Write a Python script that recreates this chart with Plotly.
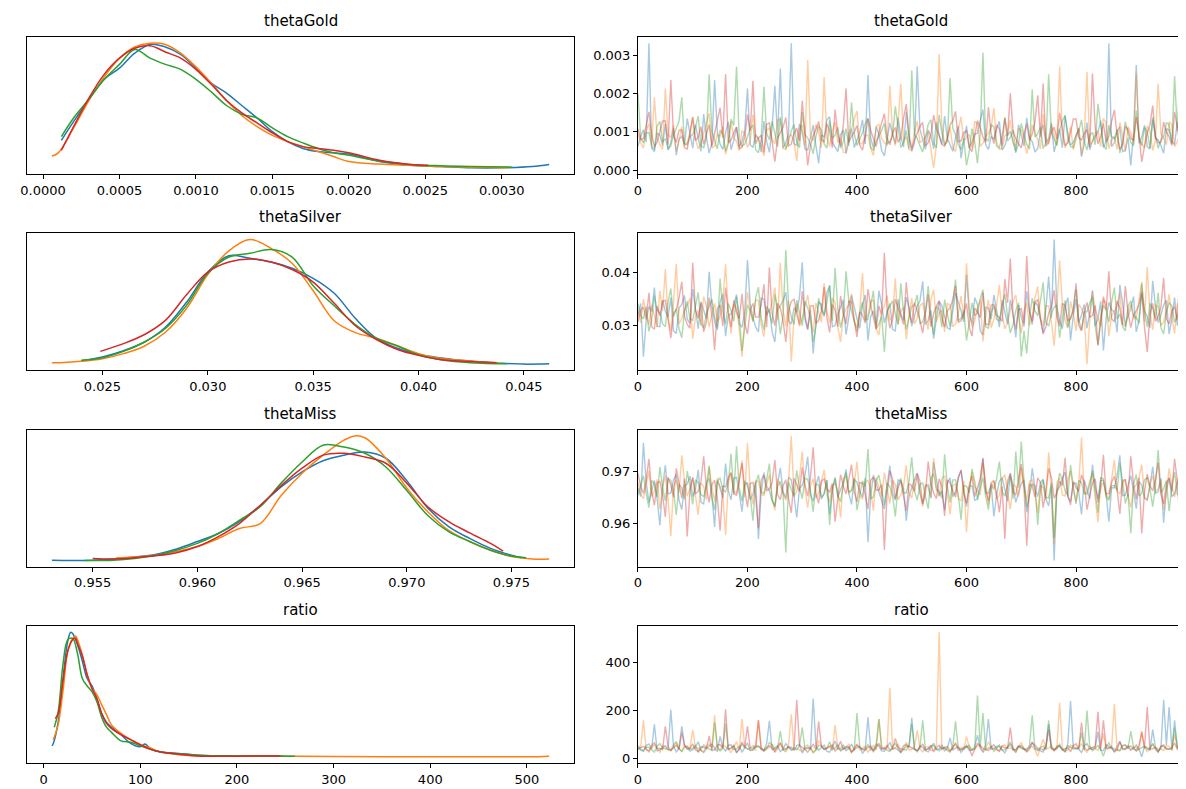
import plotly.graph_objects as go
from plotly.subplots import make_subplots

# chain colours (matplotlib tab10) and variable names
chain_colors = ['#1f77b4', '#ff7f0e', '#2ca02c', '#d62728']
var_names = ['thetaGold', 'thetaSilver', 'thetaMiss', 'ratio']

# draw index of the thinned traces (every 5th draw)
draws = list(range(0, 1000, 5))

# ---------------- KDE curves: x and relative density per chain ----------------
gold_x_c0 = [0.00012, 0.0002, 0.0003, 0.0004, 0.0005, 0.0006, 0.0007, 0.0008, 0.0009, 0.0010, 0.0011, 0.0012, 0.0013,
             0.0014, 0.0015, 0.0016, 0.0017, 0.0018, 0.0019, 0.0020, 0.0022, 0.0024, 0.0026, 0.0028, 0.0030, 0.0032, 0.00331]
gold_d_c0 = [0.22, 0.37, 0.55, 0.71, 0.80, 0.92, 0.99, 0.97, 0.91, 0.80, 0.68, 0.60, 0.50,
             0.40, 0.29, 0.21, 0.155, 0.13, 0.12, 0.11, 0.05, 0.02, 0.01, 0.0, 0.0, 0.01, 0.027]
gold_x_c1 = [0.000058, 0.0001, 0.0002, 0.0003, 0.0004, 0.0005, 0.0006, 0.0007, 0.0008, 0.0009, 0.0010, 0.0011, 0.0012,
             0.0013, 0.0014, 0.0015, 0.0016, 0.0017, 0.0018, 0.0019, 0.0020, 0.0022, 0.0024, 0.0026, 0.0028, 0.00305]
gold_d_c1 = [0.094, 0.12, 0.32, 0.54, 0.73, 0.88, 0.97, 1.00, 0.99, 0.92, 0.81, 0.68, 0.54,
             0.42, 0.33, 0.26, 0.21, 0.17, 0.13, 0.09, 0.05, 0.03, 0.02, 0.01, 0.005, 0.0]
gold_x_c2 = [0.00012, 0.0002, 0.0003, 0.0004, 0.0005, 0.0006, 0.0007, 0.0008, 0.0009, 0.0010, 0.0011, 0.0012, 0.0013,
             0.0014, 0.0015, 0.0016, 0.0017, 0.0018, 0.0019, 0.0020, 0.0022, 0.0024, 0.0026, 0.0028, 0.00307]
gold_d_c2 = [0.25, 0.40, 0.55, 0.71, 0.83, 0.95, 0.88, 0.83, 0.79, 0.71, 0.61, 0.50, 0.43,
             0.40, 0.32, 0.25, 0.20, 0.155, 0.12, 0.10, 0.055, 0.027, 0.016, 0.01, 0.005]
gold_x_c3 = [0.00012, 0.0002, 0.0003, 0.0004, 0.0005, 0.0006, 0.0007, 0.0008, 0.0009, 0.0010, 0.0011, 0.0012, 0.0013,
             0.0014, 0.0015, 0.0016, 0.0017, 0.0018, 0.0019, 0.0020, 0.0022, 0.0024, 0.00252]
gold_d_c3 = [0.14, 0.33, 0.56, 0.75, 0.88, 0.96, 0.98, 0.93, 0.88, 0.79, 0.67, 0.54, 0.44,
             0.36, 0.28, 0.21, 0.17, 0.155, 0.14, 0.12, 0.06, 0.027, 0.02]

silver_x_c0 = [0.024, 0.025, 0.026, 0.027, 0.028, 0.029, 0.030, 0.031, 0.032, 0.033, 0.034, 0.035,
               0.036, 0.037, 0.038, 0.039, 0.040, 0.041, 0.042, 0.043, 0.044, 0.045, 0.0462]
silver_d_c0 = [0.04, 0.07, 0.12, 0.19, 0.31, 0.51, 0.75, 0.88, 0.86, 0.83, 0.78, 0.70,
               0.58, 0.38, 0.22, 0.14, 0.09, 0.064, 0.043, 0.03, 0.019, 0.013, 0.016]
silver_x_c1 = [0.0226, 0.023, 0.024, 0.025, 0.026, 0.027, 0.028, 0.029, 0.030, 0.031, 0.032, 0.033,
               0.034, 0.035, 0.036, 0.037, 0.038, 0.039, 0.040, 0.041, 0.042, 0.043, 0.0438]
silver_d_c1 = [0.024, 0.024, 0.035, 0.056, 0.097, 0.158, 0.27, 0.46, 0.73, 0.92, 1.01, 0.94,
               0.82, 0.60, 0.36, 0.265, 0.22, 0.16, 0.097, 0.06, 0.043, 0.03, 0.024]
silver_x_c2 = [0.024, 0.025, 0.026, 0.027, 0.028, 0.029, 0.030, 0.031, 0.032, 0.033, 0.034,
               0.035, 0.036, 0.037, 0.038, 0.039, 0.040, 0.041, 0.042, 0.043, 0.044, 0.0442]
silver_d_c2 = [0.043, 0.064, 0.115, 0.19, 0.30, 0.485, 0.74, 0.87, 0.90, 0.93, 0.87,
               0.64, 0.48, 0.33, 0.22, 0.158, 0.088, 0.05, 0.03, 0.02, 0.016, 0.016]
silver_x_c3 = [0.0249, 0.026, 0.027, 0.028, 0.029, 0.030, 0.031, 0.032, 0.033, 0.034,
               0.035, 0.036, 0.037, 0.038, 0.039, 0.040, 0.041, 0.042, 0.043, 0.0437]
silver_d_c3 = [0.115, 0.177, 0.25, 0.365, 0.57, 0.75, 0.83, 0.855, 0.83, 0.77,
               0.67, 0.50, 0.32, 0.21, 0.13, 0.083, 0.05, 0.038, 0.03, 0.024]

miss_x_c0 = [0.95305, 0.954, 0.955, 0.956, 0.957, 0.958, 0.959, 0.960, 0.961, 0.962, 0.963, 0.964,
             0.965, 0.966, 0.967, 0.968, 0.969, 0.970, 0.971, 0.972, 0.973, 0.974, 0.975, 0.9755]
miss_d_c0 = [0.01, 0.008, 0.01, 0.02, 0.035, 0.056, 0.10, 0.16, 0.225, 0.32, 0.45, 0.60,
             0.72, 0.81, 0.855, 0.88, 0.83, 0.65, 0.43, 0.28, 0.185, 0.105, 0.05, 0.03]
miss_x_c1 = [0.9561, 0.957, 0.958, 0.959, 0.960, 0.961, 0.962, 0.963, 0.964, 0.965, 0.966, 0.967,
             0.9675, 0.968, 0.969, 0.970, 0.971, 0.972, 0.973, 0.974, 0.975, 0.976, 0.9768]
miss_d_c1 = [0.027, 0.035, 0.05, 0.08, 0.12, 0.185, 0.265, 0.305, 0.53, 0.71, 0.855, 0.976,
             1.01, 0.995, 0.83, 0.59, 0.40, 0.25, 0.16, 0.09, 0.04, 0.019, 0.019]
miss_x_c2 = [0.9546, 0.956, 0.957, 0.958, 0.959, 0.960, 0.961, 0.962, 0.963, 0.964, 0.965,
             0.966, 0.967, 0.968, 0.969, 0.970, 0.971, 0.972, 0.973, 0.974, 0.975, 0.9757]
miss_d_c2 = [0.008, 0.01, 0.024, 0.05, 0.09, 0.145, 0.225, 0.33, 0.44, 0.63, 0.80,
             0.935, 0.92, 0.87, 0.76, 0.57, 0.37, 0.24, 0.16, 0.09, 0.043, 0.03]
miss_x_c3 = [0.955, 0.956, 0.957, 0.958, 0.959, 0.960, 0.961, 0.962, 0.963, 0.964, 0.965,
             0.966, 0.967, 0.968, 0.969, 0.970, 0.971, 0.972, 0.973, 0.974, 0.9746]
miss_d_c3 = [0.024, 0.02, 0.03, 0.045, 0.07, 0.12, 0.20, 0.305, 0.45, 0.61, 0.75,
             0.855, 0.87, 0.84, 0.79, 0.63, 0.44, 0.32, 0.23, 0.145, 0.083]

ratio_x_c0 = [8.5, 10, 15, 20, 25, 28, 30, 35, 40, 45, 50, 55, 60,
              65, 70, 80, 90, 100, 105, 110, 120, 140, 160, 200, 248]
ratio_d_c0 = [0.09, 0.11, 0.28, 0.63, 0.93, 1.0, 0.99, 0.90, 0.77, 0.63, 0.57, 0.47, 0.35,
              0.28, 0.24, 0.18, 0.11, 0.083, 0.105, 0.07, 0.043, 0.03, 0.016, 0.01, 0.01]
ratio_x_c1 = [10, 15, 20, 25, 30, 33, 35, 40, 45, 50, 55, 60, 65,
              70, 80, 90, 100, 110, 120, 140, 160, 200, 300, 400, 500, 523]
ratio_d_c1 = [0.14, 0.26, 0.53, 0.85, 0.95, 0.97, 0.94, 0.82, 0.66, 0.55, 0.50, 0.42, 0.34,
              0.26, 0.19, 0.14, 0.10, 0.075, 0.043, 0.02, 0.01, 0.01, 0.005, 0.003, 0.003, 0.008]
ratio_x_c2 = [11, 15, 20, 25, 30, 35, 40, 45, 50, 55, 60,
              65, 70, 80, 90, 100, 110, 120, 140, 160, 200, 260]
ratio_d_c2 = [0.24, 0.36, 0.74, 0.94, 0.95, 0.83, 0.63, 0.57, 0.525, 0.445, 0.32,
              0.24, 0.20, 0.13, 0.12, 0.09, 0.064, 0.043, 0.027, 0.016, 0.01, 0.008]
ratio_x_c3 = [12, 15, 20, 25, 30, 33, 35, 40, 45, 50, 55, 60,
              65, 70, 80, 90, 100, 110, 120, 140, 160, 200, 245]
ratio_d_c3 = [0.31, 0.35, 0.61, 0.85, 0.94, 0.95, 0.91, 0.81, 0.66, 0.55, 0.47, 0.35,
              0.27, 0.23, 0.18, 0.14, 0.10, 0.064, 0.043, 0.024, 0.01, 0.008, 0.01]

# ---------------- traces (every 5th draw) per chain ----------------
# thetaGold stored in units of 1e-5, thetaSilver / thetaMiss in units of 1e-4
trace_unit = [1e-5, 1e-4, 1e-4, 1]

gold_c0 = [62, 88, 105, 73, 331, 57, 48, 96, 91, 64, 120, 52, 71, 109, 39, 81, 88, 67, 134, 93,
           57, 118, 79, 49, 146, 85, 44, 71, 235, 99, 68, 54, 97, 126, 53, 78, 112, 61, 75, 102,
           213, 66, 59, 92, 83, 47, 128, 74, 46, 111, 220, 83, 265, 58, 71, 95, 331, 69, 64, 121,
           99, 55, 52, 87, 117, 63, 18, 92, 86, 131, 139, 72, 61, 48, 92, 104, 43, 79, 108, 59,
           76, 97, 131, 68, 248, 84, 58, 113, 94, 51, 37, 76, 123, 92, 69, 137, 87, 60, 152, 83,
           49, 71, 270, 106, 78, 54, 104, 89, 55, 125, 93, 67, 141, 82, 66, 49, 84, 115, 31, 73,
           115, 58, 72, 94, 96, 129, 158, 66, 54, 87, 81, 107, 127, 52, 63, 91, 101, 74, 45, 118,
           89, 63, 136, 85, 74, 47, 56, 99, 118, 70, 82, 123, 47, 81, 107, 58, 143, 96, 65, 72,
           92, 110, 35, 67, 124, 53, 77, 88, 98, 129, 58, 76, 331, 61, 71, 102, 113, 48, 52, 84,
           12, 95, 274, 69, 86, 117, 61, 55, 132, 83, 79, 64, 44, 107, 105, 73, 67, 126, 94, 59]
gold_c1 = [94, 71, 58, 103, 121, 66, 190, 85, 67, 54, 213, 92, 84, 118, 49, 77, 113, 63, 72, 98,
           137, 81, 55, 69, 96, 124, 148, 57, 62, 93, 88, 112, 41, 68, 126, 84, 74, 51, 102, 97,
           59, 76, 145, 88, 81, 62, 37, 105, 109, 79, 68, 131, 132, 56, 53, 87, 92, 73, 24, 108,
           117, 64, 287, 91, 76, 119, 99, 58, 243, 84, 61, 103, 125, 72, 83, 46, 46, 95, 107, 133,
           154, 68, 69, 89, 91, 57, 38, 114, 119, 82, 73, 63, 220, 97, 64, 121, 226, 75, 87, 54,
           52, 99, 128, 71, 78, 86, 101, 48, 5.8, 64, 303, 117, 66, 81, 112, 59, 48, 104, 139, 76,
           85, 93, 57, 127, 121, 62, 70, 88, 96, 111, 162, 74, 54, 57, 89, 96, 131, 69, 62, 108,
           104, 83, 43, 72, 118, 99, 79, 55, 146, 87, 67, 118, 93, 64, 270, 92, 58, 76, 114, 53,
           81, 109, 39, 85, 256, 67, 72, 97, 103, 61, 135, 122, 56, 78, 88, 54, 124, 91, 47, 113,
           97, 70, 252, 84, 69, 58, 115, 102, 51, 77, 226, 95, 83, 66, 126, 119, 61, 74, 92, 85]
gold_c2 = [200, 84, 71, 97, 98, 62, 54, 115, 127, 73, 82, 56, 63, 91, 109, 128, 190, 69, 66, 87,
           93, 112, 141, 64, 58, 83, 250, 101, 77, 55, 104, 94, 49, 72, 133, 116, 270, 81, 62, 67,
           87, 108, 118, 53, 45, 79, 217, 96, 79, 127, 96, 61, 138, 84, 56, 73, 102, 119, 73, 58,
           151, 92, 84, 67, 42, 88, 115, 104, 68, 57, 129, 83, 91, 112, 57, 74, 108, 63, 176, 95,
           64, 81, 97, 121, 135, 59, 51, 76, 88, 103, 122, 68, 74, 89, 166, 114, 59, 71, 103, 56,
           260, 92, 82, 63, 47, 85, 119, 131, 71, 58, 144, 97, 65, 74, 240, 109, 92, 66, 53, 82,
           12, 47, 108, 73, 18, 94, 307, 81, 76, 118, 113, 62, 58, 89, 137, 76, 85, 104, 49, 67,
           121, 93, 67, 55, 210, 86, 94, 112, 56, 71, 250, 97, 78, 64, 105, 128, 142, 83, 61, 59,
           89, 102, 131, 74, 52, 91, 98, 66, 173, 117, 66, 53, 117, 88, 81, 106, 44, 72, 126, 95,
           72, 63, 155, 84, 63, 111, 101, 57, 138, 92, 57, 78, 87, 123, 119, 69, 245, 101, 260, 82]
gold_c3 = [108, 79, 83, 117, 152, 94, 61, 73, 97, 128, 128, 66, 235, 89, 72, 104, 104, 58, 55, 92,
           139, 77, 86, 113, 67, 95, 118, 62, 93, 131, 163, 84, 250, 71, 78, 98, 112, 56, 59, 87,
           145, 102, 233, 69, 84, 91, 46, 119, 123, 74, 22, 83, 96, 112, 137, 63, 68, 95, 109, 76,
           181, 88, 12, 64, 91, 105, 127, 79, 74, 121, 102, 58, 158, 93, 63, 117, 213, 72, 88, 99,
           116, 65, 52, 88, 134, 103, 79, 61, 98, 124, 147, 84, 66, 97, 111, 73, 85, 136, 172, 91,
           57, 78, 99, 114, 124, 63, 71, 92, 143, 106, 89, 67, 62, 83, 118, 129, 153, 74, 76, 98,
           102, 59, 48, 86, 129, 111, 87, 72, 164, 95, 69, 118, 107, 64, 136, 89, 200, 103, 81, 68,
           58, 94, 121, 77, 94, 125, 195, 87, 226, 62, 73, 99, 112, 81, 149, 108, 64, 71, 97, 133,
           133, 84, 78, 96, 105, 59, 252, 112, 68, 88, 121, 73, 89, 127, 157, 91, 54, 66, 114, 105,
           82, 78, 138, 94, 21, 61, 96, 117, 168, 86, 71, 72, 125, 99, 87, 64, 152, 111, 66, 83]

silver_c0 = [318, 341, 240, 309, 335, 326, 371, 298, 297, 347, 326, 315, 352, 289, 284, 332, 339, 356, 311, 303,
             368, 327, 293, 344, 327, 312, 401, 336, 305, 291, 344, 359, 279, 318, 321, 337, 358, 302, 296, 325,
             423, 339, 314, 296, 287, 351, 349, 318, 331, 287, 268, 329, 337, 346, 362, 308, 302, 333, 324, 354,
             419, 311, 291, 328, 246, 305, 343, 339, 316, 362, 374, 297, 299, 321, 333, 348, 282, 314, 356, 331,
             312, 294, 338, 357, 271, 316, 327, 301, 365, 338, 304, 324, 341, 292, 289, 349, 322, 309, 353, 334,
             298, 317, 336, 346, 383, 301, 309, 328, 274, 312, 345, 337, 318, 295, 292, 326, 361, 343, 327, 306,
             395, 321, 303, 352, 339, 289, 281, 334, 332, 311, 357, 328, 296, 347, 323, 302, 348, 319, 277, 338,
             315, 297, 364, 326, 301, 344, 337, 309, 285, 331, 392, 314, 462, 336, 308, 293, 334, 352, 271, 318,
             349, 305, 319, 339, 294, 322, 366, 298, 312, 345, 252, 313, 343, 329, 325, 286, 376, 341, 299, 317,
             331, 354, 287, 308, 359, 327, 316, 295, 384, 336, 305, 319, 338, 347, 283, 312, 352, 299, 321, 334]
silver_c1 = [327, 304, 349, 321, 301, 338, 318, 296, 365, 327, 406, 313, 289, 344, 416, 302, 312, 329, 337, 351,
             274, 316, 328, 299, 354, 335, 296, 318, 341, 307, 315, 346, 415, 324, 284, 339, 333, 292, 240, 315,
             362, 331, 307, 348, 346, 301, 278, 325, 325, 343, 371, 309, 418, 328, 298, 346, 231, 314, 339, 297,
             313, 336, 357, 318, 286, 342, 322, 305, 379, 327, 304, 351, 343, 296, 268, 319, 331, 338, 359, 308,
             295, 326, 398, 311, 319, 345, 347, 293, 281, 324, 336, 356, 309, 317, 388, 301, 326, 334, 273, 319,
             351, 302, 314, 337, 342, 318, 291, 349, 367, 306, 323, 328, 287, 341, 338, 297, 302, 322, 355, 311,
             417, 333, 296, 308, 334, 347, 269, 316, 348, 295, 311, 338, 376, 321, 293, 304, 329, 344, 357, 317,
             284, 326, 342, 299, 317, 352, 373, 313, 299, 336, 336, 307, 261, 329, 422, 341, 308, 294, 345, 323,
             289, 339, 332, 316, 226, 308, 364, 331, 315, 297, 348, 342, 279, 319, 326, 336, 361, 302, 297, 327,
             339, 314, 312, 345, 382, 306, 410, 322, 291, 338, 335, 299, 306, 327, 358, 315, 284, 341, 329, 308]
silver_c2 = [341, 317, 312, 335, 288, 309, 356, 328, 323, 302, 297, 344, 369, 316, 331, 293, 276, 327, 345, 311,
             309, 338, 362, 304, 294, 321, 337, 349, 315, 296, 388, 325, 302, 341, 328, 307, 354, 318, 251, 299,
             339, 326, 307, 352, 372, 314, 291, 336, 324, 303, 358, 329, 283, 317, 442, 338, 316, 301, 347, 324,
             299, 345, 333, 312, 268, 297, 351, 329, 319, 343, 376, 308, 408, 331, 295, 319, 402, 346, 327, 304,
             288, 322, 344, 309, 311, 337, 365, 294, 301, 318, 249, 327, 338, 346, 321, 301, 379, 325, 292, 314,
             335, 339, 357, 303, 306, 326, 374, 312, 282, 335, 329, 296, 348, 321, 297, 343, 386, 308, 313, 327,
             271, 304, 342, 318, 323, 349, 367, 297, 294, 324, 336, 311, 308, 337, 359, 316, 285, 301, 327, 342,
             240, 289, 246, 315, 351, 327, 318, 346, 381, 305, 298, 322, 334, 338, 276, 314, 347, 296, 312, 331,
             368, 309, 291, 325, 325, 342, 353, 298, 263, 316, 337, 329, 306, 344, 371, 311, 321, 297, 289, 336,
             346, 319, 314, 303, 378, 326, 296, 341, 332, 312, 361, 295, 283, 324, 342, 337, 305, 318, 327, 306]
silver_c3 = [306, 328, 334, 311, 361, 297, 292, 336, 318, 345, 347, 309, 275, 322, 329, 351, 382, 316, 301, 294,
             418, 327, 313, 342, 287, 305, 352, 319, 253, 331, 338, 298, 371, 324, 296, 347, 324, 312, 359, 303,
             283, 329, 341, 315, 315, 338, 377, 296, 409, 322, 299, 341, 332, 308, 268, 326, 345, 349, 321, 301,
             364, 318, 293, 336, 337, 303, 309, 327, 372, 314, 286, 339, 328, 297, 355, 321, 302, 345, 344, 308,
             277, 325, 319, 304, 368, 337, 311, 292, 336, 319, 437, 328, 294, 311, 349, 334, 317, 301, 381, 326,
             304, 342, 327, 309, 285, 324, 358, 297, 322, 336, 346, 313, 296, 327, 333, 348, 374, 305, 308, 321,
             341, 296, 279, 332, 325, 314, 362, 301, 301, 338, 339, 319, 314, 307, 387, 342, 426, 318, 292, 329,
             331, 303, 431, 326, 307, 344, 348, 312, 283, 297, 322, 335, 366, 316, 298, 341, 337, 308, 312, 327,
             379, 299, 289, 323, 343, 315, 318, 337, 261, 304, 354, 329, 402, 312, 306, 346, 332, 301, 374, 324,
             295, 318, 327, 339, 363, 296, 249, 321, 341, 307, 316, 334, 389, 312, 302, 327, 335, 309, 412, 331]

miss_c0 = [9668, 9652, 9755, 9679, 9641, 9663, 9683, 9648, 9597, 9671, 9712, 9657, 9659, 9684, 9694, 9645, 9627, 9673, 9676, 9691,
           9652, 9666, 9703, 9641, 9638, 9678, 9687, 9655, 9594, 9682, 9671, 9649, 9715, 9663, 9646, 9687, 9689, 9658, 9623, 9674,
           9679, 9646, 9656, 9681, 9571, 9659, 9698, 9672, 9663, 9644, 9632, 9677, 9707, 9661, 9649, 9689, 9684, 9653, 9612, 9668,
           9674, 9692, 9728, 9656, 9643, 9675, 9691, 9647, 9658, 9683, 9619, 9664, 9686, 9651, 9667, 9679, 9704, 9658, 9637, 9685,
           9679, 9662, 9651, 9688, 9565, 9654, 9693, 9676, 9662, 9641, 9628, 9673, 9711, 9659, 9645, 9684, 9682, 9667, 9606, 9652,
           9669, 9686, 9697, 9658, 9639, 9672, 9675, 9649, 9718, 9681, 9654, 9663, 9626, 9677, 9688, 9652, 9661, 9689, 9702, 9664,
           9633, 9671, 9673, 9645, 9647, 9682, 9724, 9659, 9659, 9674, 9614, 9656, 9681, 9688, 9666, 9643, 9695, 9672, 9641, 9661,
           9677, 9684, 9622, 9655, 9706, 9668, 9652, 9679, 9685, 9647, 9634, 9673, 9530, 9662, 9671, 9686, 9699, 9651, 9643, 9677,
           9678, 9659, 9618, 9684, 9664, 9648, 9713, 9671, 9648, 9683, 9683, 9656, 9604, 9669, 9669, 9691, 9731, 9654, 9655, 9676,
           9692, 9663, 9629, 9681, 9674, 9649, 9646, 9672, 9709, 9658, 9661, 9687, 9602, 9665, 9687, 9652, 9657, 9679, 9676, 9668]
miss_c1 = [9679, 9657, 9648, 9676, 9701, 9652, 9663, 9685, 9628, 9669, 9692, 9648, 9577, 9673, 9684, 9659, 9731, 9681, 9653, 9667,
           9689, 9654, 9617, 9678, 9672, 9646, 9708, 9671, 9643, 9688, 9666, 9655, 9578, 9679, 9697, 9662, 9659, 9684, 9721, 9651,
           9755, 9668, 9637, 9683, 9681, 9657, 9654, 9675, 9694, 9648, 9626, 9686, 9673, 9661, 9645, 9677, 9768, 9653, 9662, 9689,
           9738, 9665, 9631, 9672, 9686, 9649, 9659, 9681, 9703, 9656, 9641, 9674, 9677, 9662, 9612, 9687, 9691, 9658, 9664, 9676,
           9719, 9653, 9647, 9679, 9683, 9664, 9625, 9688, 9671, 9652, 9698, 9667, 9639, 9683, 9675, 9646, 9656, 9672, 9712, 9659,
           9649, 9684, 9687, 9661, 9633, 9676, 9668, 9651, 9725, 9669, 9652, 9687, 9691, 9657, 9618, 9673, 9676, 9648, 9644, 9682,
           9584, 9663, 9699, 9671, 9663, 9655, 9716, 9679, 9637, 9664, 9681, 9647, 9655, 9686, 9694, 9658, 9628, 9675, 9672, 9652,
           9707, 9668, 9646, 9681, 9684, 9659, 9621, 9673, 9669, 9646, 9736, 9662, 9561, 9678, 9688, 9655, 9653, 9684, 9701, 9667,
           9642, 9675, 9765, 9658, 9661, 9682, 9697, 9649, 9603, 9671, 9679, 9656, 9648, 9685, 9722, 9663, 9657, 9678, 9685, 9654,
           9631, 9669, 9674, 9687, 9713, 9652, 9644, 9676, 9692, 9661, 9667, 9683, 9626, 9658, 9706, 9672, 9651, 9686, 9683, 9664]
miss_c2 = [9655, 9674, 9692, 9658, 9631, 9683, 9676, 9651, 9709, 9669, 9644, 9686, 9683, 9662, 9617, 9677, 9668, 9647, 9701, 9671,
           9637, 9684, 9679, 9656, 9652, 9673, 9711, 9649, 9626, 9681, 9688, 9664, 9661, 9678, 9734, 9655, 9748, 9668, 9643, 9682,
           9672, 9653, 9606, 9676, 9694, 9661, 9658, 9685, 9715, 9647, 9634, 9672, 9681, 9658, 9545, 9679, 9667, 9652, 9702, 9669,
           9648, 9687, 9685, 9663, 9623, 9676, 9674, 9651, 9657, 9684, 9598, 9667, 9689, 9654, 9642, 9675, 9698, 9661, 9664, 9688,
           9626, 9657, 9682, 9671, 9743, 9648, 9651, 9683, 9693, 9666, 9636, 9678, 9671, 9652, 9614, 9674, 9687, 9659, 9659, 9681,
           9727, 9663, 9645, 9676, 9678, 9652, 9629, 9687, 9696, 9665, 9662, 9649, 9733, 9672, 9641, 9684, 9684, 9656, 9608, 9673,
           9672, 9659, 9705, 9681, 9647, 9668, 9688, 9653, 9627, 9677, 9666, 9686, 9719, 9661, 9653, 9674, 9691, 9648, 9738, 9669,
           9757, 9682, 9632, 9657, 9676, 9673, 9598, 9664, 9684, 9651, 9649, 9678, 9573, 9666, 9697, 9685, 9663, 9654, 9712, 9671,
           9638, 9683, 9679, 9659, 9656, 9675, 9701, 9662, 9621, 9688, 9686, 9651, 9645, 9673, 9673, 9664, 9716, 9681, 9639, 9657,
           9582, 9676, 9694, 9653, 9658, 9684, 9688, 9667, 9633, 9672, 9741, 9659, 9667, 9683, 9624, 9671, 9699, 9655, 9661, 9678]
miss_c3 = [9697, 9671, 9658, 9684, 9724, 9662, 9635, 9678, 9681, 9655, 9613, 9689, 9674, 9651, 9706, 9673, 9649, 9686, 9576, 9664,
           9688, 9657, 9662, 9681, 9729, 9668, 9641, 9675, 9683, 9649, 9587, 9672, 9671, 9688, 9698, 9659, 9654, 9683, 9716, 9665,
           9632, 9677, 9679, 9652, 9591, 9684, 9693, 9663, 9667, 9679, 9722, 9656, 9646, 9673, 9684, 9648, 9621, 9687, 9675, 9662,
           9708, 9674, 9653, 9689, 9746, 9658, 9639, 9681, 9686, 9666, 9661, 9677, 9604, 9653, 9694, 9672, 9657, 9685, 9713, 9661,
           9642, 9679, 9677, 9656, 9628, 9683, 9689, 9664, 9665, 9675, 9550, 9658, 9701, 9686, 9648, 9669, 9682, 9653, 9624, 9677,
           9673, 9662, 9696, 9681, 9637, 9657, 9719, 9676, 9659, 9648, 9686, 9671, 9615, 9684, 9678, 9663, 9651, 9687, 9703, 9659,
           9639, 9674, 9691, 9652, 9667, 9686, 9726, 9665, 9644, 9678, 9683, 9657, 9622, 9671, 9571, 9682, 9697, 9661, 9655, 9684,
           9714, 9667, 9558, 9676, 9672, 9651, 9688, 9679, 9631, 9664, 9706, 9688, 9649, 9659, 9681, 9673, 9726, 9654, 9636, 9681,
           9669, 9662, 9694, 9677, 9627, 9653, 9678, 9686, 9641, 9668, 9732, 9657, 9658, 9679, 9691, 9665, 9619, 9683, 9684, 9652,
           9729, 9676, 9647, 9688, 9582, 9661, 9695, 9673, 9663, 9684, 9717, 9656, 9638, 9677, 9688, 9662, 9724, 9681, 9596, 9669]

ratio_c0 = [48, 36, 31, 55, 62, 41, 143, 33, 37, 47, 54, 39, 203, 51, 29, 44, 135, 58, 45, 32,
            38, 49, 71, 35, 26, 43, 52, 61, 44, 30, 93, 46, 33, 57, 58, 38, 41, 52, 27, 45,
            66, 34, 39, 50, 51, 42, 35, 63, 158, 37, 46, 54, 30, 41, 63, 48, 42, 35, 55, 59,
            24, 44, 49, 38, 250, 53, 36, 46, 57, 31, 28, 49, 74, 40, 43, 56, 34, 42, 61, 37,
            47, 52, 22, 39, 172, 45, 38, 61, 53, 33, 31, 48, 68, 42, 44, 36, 26, 55, 59, 47,
            170, 40, 35, 53, 48, 34, 29, 46, 64, 38, 41, 58, 33, 44, 87, 37, 45, 51, 27, 42,
            56, 35, 37, 49, 98, 43, 30, 57, 165, 39, 42, 52, 51, 36, 25, 47, 60, 41, 36, 54,
            47, 38, 32, 50, 69, 44, 40, 33, 28, 56, 143, 42, 38, 48, 54, 37, 31, 61, 240, 45,
            45, 39, 26, 53, 63, 41, 39, 47, 112, 35, 34, 58, 52, 43, 29, 50, 73, 38, 41, 55,
            36, 44, 58, 40, 8.5, 51, 47, 36, 121, 49, 33, 42, 245, 57, 215, 39, 160, 46, 44, 52]
ratio_c1 = [42, 51, 160, 38, 35, 47, 58, 41, 27, 55, 49, 36, 38, 48, 66, 43, 31, 57, 53, 40,
            120, 46, 44, 35, 29, 52, 61, 44, 180, 39, 37, 58, 50, 42, 25, 49, 72, 37, 165, 53,
            40, 45, 56, 34, 160, 50, 34, 43, 47, 61, 28, 38, 64, 47, 39, 55, 185, 41, 45, 36,
            32, 52, 58, 44, 26, 39, 77, 57, 41, 46, 53, 35, 140, 48, 36, 42, 49, 60, 30, 45,
            62, 38, 44, 51, 27, 43, 55, 37, 165, 54, 38, 46, 295, 40, 46, 59, 33, 44, 69, 36,
            40, 50, 118, 41, 29, 47, 51, 35, 37, 56, 525, 43, 43, 38, 31, 52, 60, 45, 47, 39,
            92, 48, 35, 42, 54, 57, 26, 40, 71, 46, 42, 35, 33, 53, 58, 44, 45, 38, 28, 51,
            66, 42, 39, 47, 52, 36, 10, 49, 81, 43, 44, 55, 36, 40, 232, 48, 30, 37, 57, 52,
            41, 45, 63, 39, 27, 50, 48, 43, 35, 58, 105, 41, 43, 47, 228, 36, 32, 54, 56, 44,
            38, 49, 47, 37, 115, 51, 29, 42, 61, 46, 40, 39, 34, 55, 52, 43, 100, 48, 45, 40]
ratio_c2 = [55, 41, 34, 49, 47, 37, 28, 53, 63, 44, 41, 36, 36, 58, 72, 42, 30, 47, 51, 39,
            44, 55, 27, 40, 58, 46, 39, 35, 150, 51, 33, 43, 147, 38, 46, 56, 25, 41, 61, 47,
            42, 36, 35, 52, 54, 44, 31, 39, 68, 57, 40, 45, 115, 37, 29, 50, 48, 42, 37, 54,
            130, 40, 43, 47, 26, 35, 57, 53, 38, 44, 71, 39, 45, 58, 32, 41, 52, 46, 28, 37,
            190, 50, 40, 43, 59, 38, 34, 55, 165, 42, 47, 36, 30, 51, 64, 45, 41, 39, 36, 57,
            145, 43, 29, 48, 160, 37, 43, 54, 55, 41, 33, 46, 48, 35, 27, 52, 155, 44, 39, 40,
            50, 56, 35, 42, 262, 47, 190, 38, 44, 53, 31, 45, 57, 36, 38, 49, 70, 43, 26, 51,
            46, 39, 40, 55, 180, 42, 33, 47, 53, 37, 160, 50, 37, 44, 61, 38, 29, 54, 49, 41,
            42, 46, 110, 36, 200, 52, 34, 43, 56, 39, 11, 48, 66, 45, 41, 37, 36, 56, 58, 42,
            115, 47, 32, 40, 47, 53, 39, 44, 63, 38, 28, 51, 52, 43, 43, 36, 130, 49, 37, 45]
ratio_c3 = [38, 47, 52, 40, 29, 55, 67, 43, 43, 38, 135, 51, 33, 46, 56, 39, 110, 53, 40, 44,
            62, 37, 31, 50, 48, 42, 95, 36, 36, 57, 59, 45, 205, 41, 42, 53, 27, 38, 70, 47,
            135, 43, 45, 56, 160, 39, 37, 48, 54, 44, 30, 52, 66, 37, 41, 49, 35, 42, 245, 55,
            47, 40, 28, 46, 60, 38, 155, 51, 39, 43, 51, 57, 32, 44, 73, 39, 44, 50, 26, 41,
            57, 48, 38, 36, 48, 53, 30, 45, 64, 40, 42, 55, 36, 42, 85, 47, 27, 38, 53, 52,
            45, 41, 33, 49, 61, 37, 40, 54, 29, 46, 56, 39, 47, 51, 34, 43, 68, 36, 38, 48,
            51, 44, 12, 40, 63, 55, 43, 38, 35, 47, 58, 42, 31, 53, 46, 45, 130, 37, 39, 50,
            55, 43, 28, 39, 67, 56, 44, 41, 37, 48, 120, 44, 33, 52, 52, 38, 41, 46, 30, 55,
            62, 40, 150, 47, 36, 42, 48, 53, 195, 39, 160, 45, 45, 50, 29, 37, 71, 44, 39, 49,
            53, 41, 34, 56, 110, 43, 215, 38, 42, 47, 27, 52, 58, 40, 40, 45, 66, 39, 46, 51]

kde_curves = [
    [(gold_x_c0, gold_d_c0), (gold_x_c1, gold_d_c1), (gold_x_c2, gold_d_c2), (gold_x_c3, gold_d_c3)],
    [(silver_x_c0, silver_d_c0), (silver_x_c1, silver_d_c1), (silver_x_c2, silver_d_c2), (silver_x_c3, silver_d_c3)],
    [(miss_x_c0, miss_d_c0), (miss_x_c1, miss_d_c1), (miss_x_c2, miss_d_c2), (miss_x_c3, miss_d_c3)],
    [(ratio_x_c0, ratio_d_c0), (ratio_x_c1, ratio_d_c1), (ratio_x_c2, ratio_d_c2), (ratio_x_c3, ratio_d_c3)],
]
chain_traces = [
    [gold_c0, gold_c1, gold_c2, gold_c3],
    [silver_c0, silver_c1, silver_c2, silver_c3],
    [miss_c0, miss_c1, miss_c2, miss_c3],
    [ratio_c0, ratio_c1, ratio_c2, ratio_c3],
]

left_fmt = ['.4f', '.3f', '.3f', 'd']
left_dtick = [0.0005, 0.005, 0.005, 100]
right_fmt = ['.3f', '.2f', '.2f', 'd']
right_dtick = [0.001, 0.01, 0.01, 200]


def padded(lists):
    # matplotlib style 5% margins
    lo = min(min(v) for v in lists)
    hi = max(max(v) for v in lists)
    p = (hi - lo) * 0.05
    return [lo - p, hi + p]


titles = []
for name in var_names:
    titles += [name, name]

fig = make_subplots(rows=4, cols=2, subplot_titles=titles,
                    horizontal_spacing=0.0552, vertical_spacing=0.0817)

for r in range(4):
    # left: density per chain
    for c, (xs, ds) in enumerate(kde_curves[r]):
        fig.add_trace(go.Scatter(x=xs, y=ds, mode='lines',
                                 line=dict(color=chain_colors[c], width=1.5, shape='spline'),
                                 showlegend=False, hoverinfo='skip'), row=r + 1, col=1)
    # right: trace per chain
    scaled = [[v * trace_unit[r] for v in vals] for vals in chain_traces[r]]
    for c, vals in enumerate(scaled):
        fig.add_trace(go.Scatter(x=draws, y=vals, mode='lines', line=dict(color=chain_colors[c], width=1.4),
                                 opacity=0.38, showlegend=False, hoverinfo='skip'), row=r + 1, col=2)

    fig.update_xaxes(range=padded([xs for xs, _ in kde_curves[r]]), tickformat=left_fmt[r], dtick=left_dtick[r],
                     row=r + 1, col=1)
    fig.update_yaxes(range=padded([ds for _, ds in kde_curves[r]]), showticklabels=False, ticks='',
                     row=r + 1, col=1)
    fig.update_xaxes(range=[0, 999], dtick=200, tickformat='d', row=r + 1, col=2)
    fig.update_yaxes(range=padded(scaled), tickformat=right_fmt[r], dtick=right_dtick[r],
                     row=r + 1, col=2)

fig.update_xaxes(showline=True, mirror=True, linecolor='black', linewidth=1, showgrid=False, zeroline=False,
                 ticks='outside', ticklen=4, tickcolor='black')
fig.update_yaxes(showline=True, mirror=True, linecolor='black', linewidth=1, showgrid=False, zeroline=False)
for r in range(4):
    fig.update_yaxes(ticks='outside', ticklen=4, tickcolor='black', row=r + 1, col=2)

fig.update_annotations(font=dict(family='DejaVu Sans', size=15, color='black'), yshift=5)

fig.update_layout(width=1186, height=789, margin=dict(l=19, r=9, t=29, b=34),
                  paper_bgcolor='white', plot_bgcolor='white',
                  font=dict(family='DejaVu Sans', size=13, color='black'))

fig.write_html("out.html")
